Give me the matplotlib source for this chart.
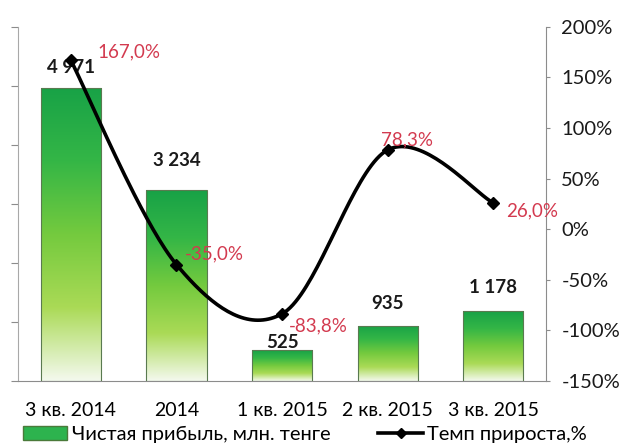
import numpy as np
import matplotlib.pyplot as plt
from matplotlib.colors import LinearSegmentedColormap
from matplotlib.patches import Rectangle
from matplotlib.lines import Line2D

plt.rcParams['font.family'] = ['Lato', 'DejaVu Sans']

categories = ['3 кв. 2014', '2014', '1 кв. 2015', '2 кв. 2015', '3 кв. 2015']
profit = [4971, 3234, 525, 935, 1178]
growth = [167.0, -35.0, -83.8, 78.3, 26.0]
profit_labels = ['4 971', '3 234', '525', '935', '1 178']
growth_labels = ['167,0%', '-35,0%', '-83,8%', '78,3%', '26,0%']
bar_name = 'Чистая прибыль, млн. тенге'
line_name = 'Темп прироста,%'

# label offsets in points (dx, dy) and alignment
pct_offsets = [(19, 6), (6, 8), (5, -9), (14, 7), (9, -6)]
pct_ha = ['left', 'left', 'left', 'center', 'left']
val_offsets = [8, 15, -1, 10, 11]

gray = '#8c8c8c'
red = '#d33a4f'

fig = plt.figure(figsize=(6.32, 4.48), dpi=100)
ax = fig.add_axes([0.0285, 0.15, 0.8355, 0.79])
ax2 = ax.twinx()

x = np.arange(len(categories))
width = 0.57
cmap = LinearSegmentedColormap.from_list(
    'g', ['#18a247', '#34b646', '#74ca3e', '#aada56', '#f4f9ee'])
grad = np.linspace(0, 1, 256).reshape(-1, 1)

for xi, v in zip(x, profit):
    rect = Rectangle((xi - width / 2, 0), width, v, facecolor='none',
                     edgecolor='#5a7a50', linewidth=0.8, zorder=3)
    ax.add_patch(rect)
    im = ax.imshow(grad, cmap=cmap, aspect='auto', zorder=2,
                   extent=[xi - width / 2, xi + width / 2, 0, v])
    im.set_clip_path(rect)
ax.set_xlim(-0.5, len(categories) - 0.5)
ax.set_ylim(0, 6000)

for xi, v, lab, dy in zip(x, profit, profit_labels, val_offsets):
    ax.annotate(lab, (xi, v), xytext=(0, dy), textcoords='offset points',
                ha='center', va='bottom', fontsize=13.5, fontweight='bold',
                color='#1a1a1a', zorder=6)

ax.set_yticks(np.arange(0, 6001, 1000))
ax.set_yticklabels([])
ax.tick_params(axis='y', colors=gray, length=5, direction='out')
ax.set_xticks(x)
ax.set_xticklabels(categories, fontsize=14)
ax.tick_params(axis='x', length=0, pad=15)
for s in ['top', 'right']:
    ax.spines[s].set_visible(False)
ax.spines['left'].set_color('#a8a8a8')
ax.spines['bottom'].set_color(gray)


def smooth(xs, ys, n=40):
    pts = np.column_stack([xs, ys]).astype(float)
    out = []
    for i in range(len(pts) - 1):
        p0 = pts[max(i - 1, 0)]
        p1 = pts[i]
        p2 = pts[i + 1]
        p3 = pts[min(i + 2, len(pts) - 1)]
        c1 = p1 + (p2 - p0) / 6
        c2 = p2 - (p3 - p1) / 6
        t = np.linspace(0, 1, n)[:, None]
        seg = ((1 - t) ** 3) * p1 + 3 * ((1 - t) ** 2) * t * c1 \
            + 3 * (1 - t) * t ** 2 * c2 + t ** 3 * p2
        out.append(seg)
    return np.vstack(out)


curve = smooth(x, growth)
ax2.plot(curve[:, 0], curve[:, 1], color='black', lw=2.6, zorder=5,
         solid_capstyle='round')
ax2.plot(x, growth, linestyle='none', marker='D', color='black',
         markersize=6.5, zorder=6)
ax2.set_ylim(-150, 200)
ax2.set_yticks(np.arange(-150, 201, 50))
ax2.set_yticklabels([f'{t}%' for t in range(-150, 201, 50)], fontsize=14.5)
ax2.tick_params(axis='y', colors=gray, length=3, labelcolor='#1a1a1a', pad=8)
for s in ['top', 'left', 'bottom']:
    ax2.spines[s].set_visible(False)
ax2.spines['right'].set_color(gray)

for xi, g, lab, (dx, dy), ha in zip(x, growth, growth_labels, pct_offsets, pct_ha):
    ax2.annotate(lab, (xi, g), xytext=(dx, dy), textcoords='offset points',
                 ha=ha, va='center', fontsize=13.5, color=red, zorder=7)

handles = [Rectangle((0, 0), 1, 1, facecolor='#2db34e', edgecolor='#4a7a3a'),
           Line2D([0], [0], color='black', lw=2.6, marker='D', markersize=5)]
fig.legend(handles, [bar_name, line_name], loc='lower left',
           bbox_to_anchor=(0.008, -0.03), ncol=2, frameon=False,
           fontsize=14.5, handlelength=2.2, handletextpad=0.2,
           columnspacing=2.4)

fig.savefig('out.png', dpi=100, facecolor='white')
